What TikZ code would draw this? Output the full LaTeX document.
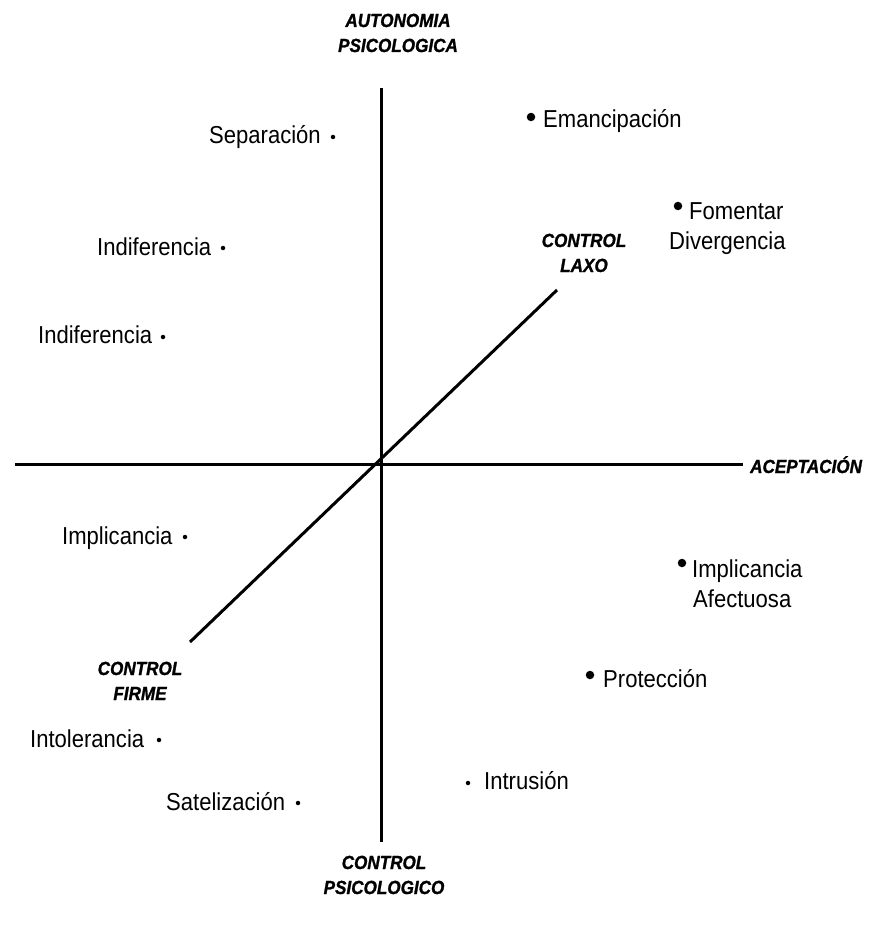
\documentclass[tikz,border=0pt]{standalone}
\usepackage{fontspec}
\setmainfont[FakeStretch=0.9]{Liberation Sans}
\newfontfamily\axisfont[FakeStretch=0.9,BoldItalicFeatures={FakeBold=1.2}]{Liberation Sans}
\begin{document}
\begin{tikzpicture}[x=1pt,y=-1pt,
  lbl/.style={anchor=base west,inner sep=0pt,font=\fontsize{24.5}{28}\selectfont},
  axl/.style={anchor=base,inner sep=0pt,font=\axisfont\fontsize{19}{22}\selectfont\bfseries\itshape},
  bigdot/.style={circle,fill=black,inner sep=0pt,minimum size=8.5pt},
  smalldot/.style={circle,fill=black,inner sep=0pt,minimum size=4.5pt},
  axis/.style={line width=3pt}]
\useasboundingbox (0,0) rectangle (876,925);
% axes
\coordinate (vt) at (381,88);
\coordinate (vb) at (381,842);
\coordinate (hl) at (15,464);
\coordinate (hr) at (743,464);
\coordinate (dl) at (190,642);
\coordinate (dr) at (557,290);
\draw[axis] (vt) -- (vb);
\draw[axis] (hl) -- (hr);
\draw[axis] (dl) -- (dr);
% axis labels
\node[axl] (a1) at (398,27) {AUTONOMIA};
\node[axl] (a2) at (398,52) {PSICOLOGICA};
\node[axl] (l1) at (584,247) {CONTROL};
\node[axl] (l2) at (584,272) {LAXO};
\node[axl,anchor=base west] (ac) at (750,473) {ACEPTACIÓN};
\node[axl] (f1) at (140,675) {CONTROL};
\node[axl] (f2) at (140,700) {FIRME};
\node[axl] (p1) at (384,869) {CONTROL};
\node[axl] (p2) at (384,894) {PSICOLOGICO};
% items
\node[lbl] (sep) at (209,144) {Separación};
\node[smalldot] (dsep) at (333,137) {};
\node[lbl] (ema) at (543,128) {Emancipación};
\node[bigdot] (dema) at (531,117) {};
\node[lbl] (fom) at (689,219) {Fomentar};
\node[lbl] (div) at (669,249) {Divergencia};
\node[bigdot] (dfom) at (678,206) {};
\node[lbl] (ind1) at (97,255) {Indiferencia};
\node[smalldot] (dind1) at (223,248) {};
\node[lbl] (ind2) at (38,343) {Indiferencia};
\node[smalldot] (dind2) at (163,337) {};
\node[lbl] (imp) at (62,544) {Implicancia};
\node[smalldot] (dimp) at (185,537) {};
\node[lbl] (impa) at (692,577) {Implicancia};
\node[lbl] (afe) at (693,607) {Afectuosa};
\node[bigdot] (dimpa) at (682,563) {};
\node[lbl] (pro) at (603,687) {Protección};
\node[bigdot] (dpro) at (590,675) {};
\node[lbl] (into) at (30,747) {Intolerancia};
\node[smalldot] (dinto) at (159,740) {};
\node[lbl] (intr) at (484,789) {Intrusión};
\node[smalldot] (dintr) at (468,783) {};
\node[lbl] (sat) at (166,810) {Satelización};
\node[smalldot] (dsat) at (298,803) {};
\end{tikzpicture}
\end{document}
